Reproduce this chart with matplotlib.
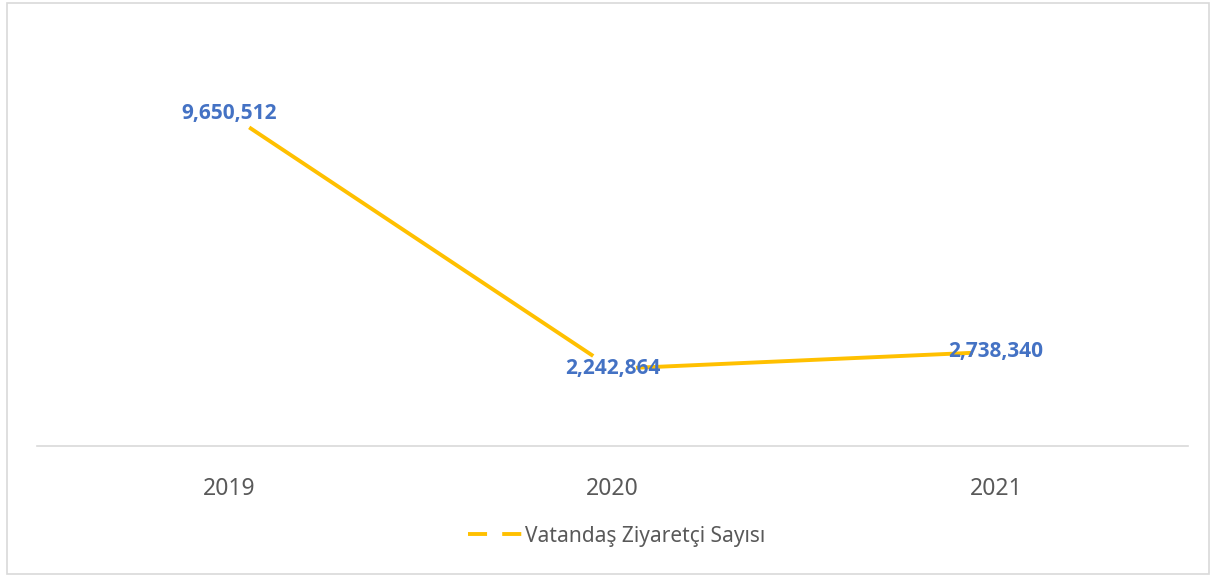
import matplotlib.pyplot as plt
from matplotlib.lines import Line2D
from matplotlib.patches import Rectangle

plt.rcParams['font.family'] = ['Noto Sans', 'DejaVu Sans']

years = ['2019', '2020', '2021']
visitors = [9650512, 2242864, 2738340]
series_name = 'Vatandaş Ziyaretçi Sayısı'

line_color = '#FFC000'
label_color = '#4472C4'
text_color = '#595959'

fig = plt.figure(figsize=(12.14, 5.76), dpi=100)
ax = fig.add_axes([0.0305, 0.2257, 0.948, 0.717])

x = range(len(years))
# white markers hide the line close to each point, as in the source chart
ax.plot(x, visitors, color=line_color, linewidth=2.8, solid_capstyle='butt',
        marker='o', markersize=33, markerfacecolor='white',
        markeredgecolor='white', zorder=2)

for xi, v in zip(x, visitors):
    ax.text(xi, v, f'{v:,}', ha='center', va='center', color=label_color,
            fontsize=15, fontweight='bold', family=['Open Sans', 'DejaVu Sans'],
            zorder=3)

ax.set_xlim(-0.5, len(years) - 0.5)
ax.set_ylim(0, 12000000)
ax.set_xticks(list(x))
ax.set_xticklabels(years, fontsize=16.5, color=text_color)
ax.tick_params(axis='x', length=0, pad=22)
ax.set_yticks([])
for s in ['top', 'left', 'right']:
    ax.spines[s].set_visible(False)
ax.spines['bottom'].set_color('#d9d9d9')
ax.spines['bottom'].set_linewidth(1.2)

handle = Line2D([], [], color=line_color, linewidth=2.8, linestyle=(0, (4.9, 3.9)))
fig.legend([handle], [series_name], loc='center', bbox_to_anchor=(0.508, 0.069),
           frameon=False, fontsize=15, labelcolor=text_color,
           handlelength=2.6, handletextpad=0.15)

fig.patches.append(Rectangle((0.006, 0.004), 0.99, 0.99, transform=fig.transFigure,
                             fill=False, edgecolor='#d9d9d9', linewidth=1.2))

fig.savefig('out.png', dpi=100)
